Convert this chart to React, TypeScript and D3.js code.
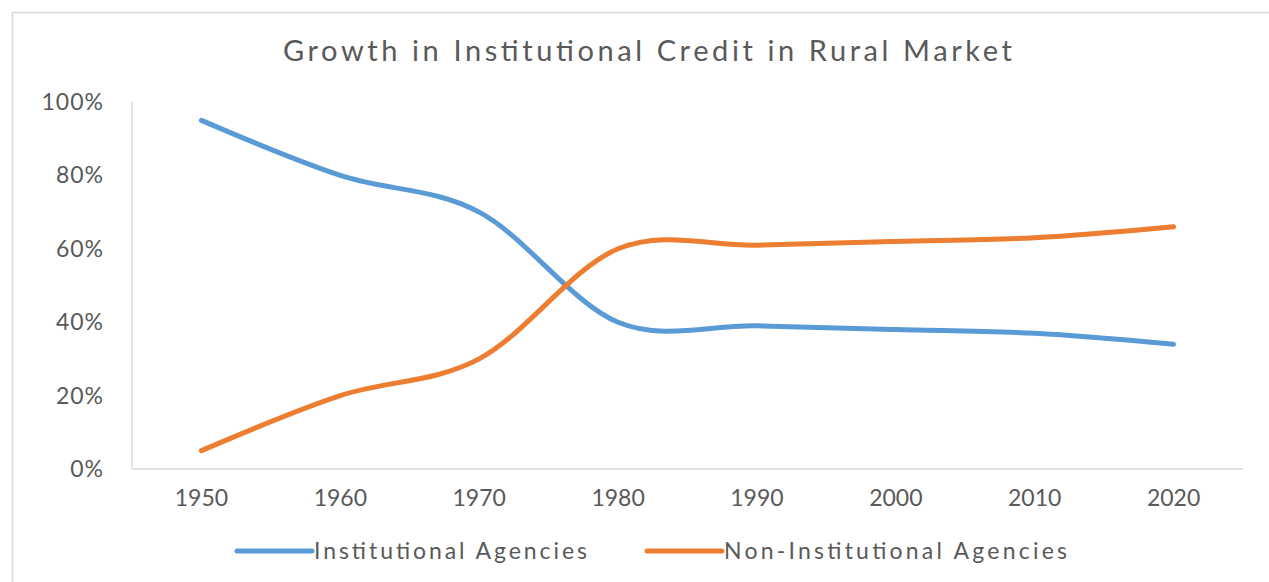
import React, { useEffect, useRef } from 'react';
import * as d3 from 'd3';

// chart data
const years = ['1950', '1960', '1970', '1980', '1990', '2000', '2010', '2020'];
const institutional = [0.95, 0.8, 0.7, 0.4, 0.39, 0.38, 0.37, 0.34];
const nonInstitutional = [0.05, 0.2, 0.3, 0.6, 0.61, 0.62, 0.63, 0.66];
const yTicks = [0, 0.2, 0.4, 0.6, 0.8, 1];

const title = 'Growth in Institutional Credit in Rural Market';
const seriesNames = ['Institutional Agencies', 'Non-Institutional Agencies'];
const colors = ['#5B9BD5', '#ED7D31'];

const App = () => {
  const svgRef = useRef<SVGSVGElement>(null);

  useEffect(() => {
    const svg = d3.select(svgRef.current);
    svg.selectAll('*').remove();
    const width = 1269;
    const height = 582;
    const font = 'Lato, "Open Sans", sans-serif';
    const textColor = '#595959';
    const gridColor = '#D9D9D9';

    // outer chart border
    svg.append('rect')
      .attr('x', 12.5).attr('y', 12.5)
      .attr('width', width + 20).attr('height', height + 20)
      .attr('fill', 'white')
      .attr('stroke', gridColor).attr('stroke-width', 1.5);

    const left = 132;
    const right = 1243;
    const top = 102;
    const bottom = 469;

    const xScale = d3.scaleBand().domain(years).range([left, right]);
    const yScale = d3.scaleLinear().domain([0, 1]).range([bottom, top]);
    const xPos = (d: string) => (xScale(d) as number) + xScale.bandwidth() / 2;

    // title
    svg.append('text')
      .attr('x', 283).attr('y', 61)
      .attr('font-family', font).attr('font-size', 29)
      .attr('fill', textColor)
      .attr('textLength', 729)
      .attr('lengthAdjust', 'spacing')
      .text(title);

    // axes lines
    svg.append('line')
      .attr('x1', left).attr('x2', left)
      .attr('y1', top).attr('y2', bottom)
      .attr('stroke', gridColor).attr('stroke-width', 1.5);
    svg.append('line')
      .attr('x1', left).attr('x2', right)
      .attr('y1', bottom).attr('y2', bottom)
      .attr('stroke', gridColor).attr('stroke-width', 1.5);

    // y tick labels
    svg.append('g')
      .selectAll('text')
      .data(yTicks)
      .enter()
      .append('text')
      .attr('x', 104)
      .attr('y', d => yScale(d) + 8)
      .attr('text-anchor', 'end')
      .attr('font-family', font).attr('font-size', 23)
      .attr('letter-spacing', 1)
      .attr('fill', textColor)
      .text(d => d3.format('.0%')(d));

    // x tick labels
    svg.append('g')
      .selectAll('text')
      .data(years)
      .enter()
      .append('text')
      .attr('x', d => xPos(d))
      .attr('y', 506)
      .attr('text-anchor', 'middle')
      .attr('font-family', font).attr('font-size', 23)
      .attr('fill', textColor)
      .text(d => d);

    // lines
    const line = d3.line<number>()
      .x((_, i) => xPos(years[i]))
      .y(d => yScale(d))
      .curve(d3.curveCardinal.tension(0));

    [institutional, nonInstitutional].forEach((series, i) => {
      svg.append('path')
        .datum(series)
        .attr('d', line)
        .attr('fill', 'none')
        .attr('stroke', colors[i])
        .attr('stroke-width', 5)
        .attr('stroke-linecap', 'round')
        .attr('stroke-linejoin', 'round');
    });

    // legend
    const legendX = [237, 647];
    const legendLen = [273, 343];
    seriesNames.forEach((name, i) => {
      svg.append('line')
        .attr('x1', legendX[i]).attr('x2', legendX[i] + 75)
        .attr('y1', 551).attr('y2', 551)
        .attr('stroke', colors[i]).attr('stroke-width', 5)
        .attr('stroke-linecap', 'round');
      svg.append('text')
        .attr('x', legendX[i] + 77).attr('y', 559)
        .attr('font-family', font).attr('font-size', 23)
        .attr('fill', textColor)
        .attr('textLength', legendLen[i])
        .attr('lengthAdjust', 'spacing')
        .text(name);
    });
  }, []);

  return (
    <svg
      ref={svgRef}
      width={1269}
      height={582}
      style={{ position: 'absolute', left: 0, top: 0, background: 'white' }}
    ></svg>
  );
};

export default App;
